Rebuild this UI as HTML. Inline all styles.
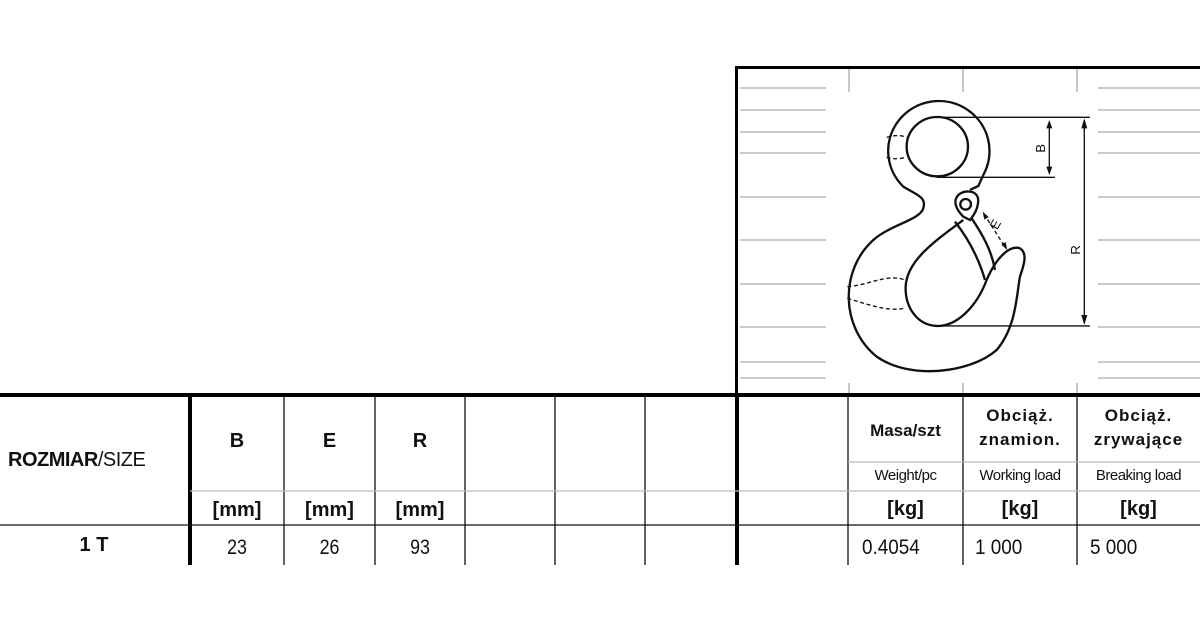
<!DOCTYPE html>
<html><head><meta charset="utf-8">
<style>
body{margin:0;width:1200px;height:630px;background:#fff;position:relative;overflow:hidden;font-family:"Liberation Sans",sans-serif;color:#111}
.a{position:absolute}
.t{position:absolute;text-align:center}
</style></head><body>
<svg class="a" style="left:0;top:0" width="1200" height="630">
<rect x="736" y="66" width="470" height="3" fill="#000"/>
<rect x="735" y="66" width="3" height="330" fill="#000"/>
<g stroke="#aaa" stroke-width="1.3">
<line x1="740" y1="88" x2="826" y2="88"/><line x1="740" y1="110" x2="826" y2="110"/><line x1="740" y1="132" x2="826" y2="132"/><line x1="740" y1="153" x2="826" y2="153"/><line x1="740" y1="197" x2="826" y2="197"/><line x1="740" y1="240" x2="826" y2="240"/><line x1="740" y1="284" x2="826" y2="284"/><line x1="740" y1="327" x2="826" y2="327"/><line x1="740" y1="362" x2="826" y2="362"/><line x1="740" y1="378" x2="826" y2="378"/>
<line x1="1098" y1="88" x2="1200" y2="88"/><line x1="1098" y1="110" x2="1200" y2="110"/><line x1="1098" y1="132" x2="1200" y2="132"/><line x1="1098" y1="153" x2="1200" y2="153"/><line x1="1098" y1="197" x2="1200" y2="197"/><line x1="1098" y1="240" x2="1200" y2="240"/><line x1="1098" y1="284" x2="1200" y2="284"/><line x1="1098" y1="327" x2="1200" y2="327"/><line x1="1098" y1="362" x2="1200" y2="362"/><line x1="1098" y1="378" x2="1200" y2="378"/>
<line x1="849" y1="69" x2="849" y2="92"/><line x1="963" y1="69" x2="963" y2="92"/><line x1="1077" y1="69" x2="1077" y2="92"/>
<line x1="849" y1="383" x2="849" y2="395"/><line x1="963" y1="383" x2="963" y2="395"/><line x1="1077" y1="383" x2="1077" y2="395"/>
</g>
<g transform="translate(730,60) scale(0.3333)" fill="none" stroke="#111" stroke-width="7">
<path d="M760 345 A152 150 0 1 0 520 380 C560 405 590 410 580 445 C570 480 480 495 430 540 C330 630 330 800 440 890 C540 960 720 940 800 870 C860 800 860 700 870 650 C880 620 895 580 870 565 C840 555 800 590 770 660 C740 740 680 800 620 798 C560 795 525 740 527 680 C530 600 620 540 700 480"/>
<ellipse cx="622" cy="260" rx="92" ry="89"/>
<path d="M700 470 C650 420 690 390 720 395 C760 400 745 450 720 480 Z"/>
<circle cx="707" cy="433" r="16"/>
<path d="M675 485 C710 530 745 590 765 660"/>
<path d="M725 475 C755 520 785 570 795 630"/>
<path d="M720 390 L745 378 L760 345"/>
<g stroke-dasharray="12 8" stroke-width="4">
<path d="M470 232 C490 225 515 225 530 232"/><path d="M470 292 C490 298 515 298 527 290"/>
<path d="M352 680 C420 675 470 640 525 660"/><path d="M352 715 C420 735 470 755 525 745"/>
<path d="M762 462 L828 565"/>
</g>
<g stroke-width="4">
<line x1="600" y1="172" x2="1080" y2="172"/><line x1="620" y1="352" x2="975" y2="352"/><line x1="620" y1="798" x2="1080" y2="798"/>
<line x1="958" y1="185" x2="958" y2="340"/><line x1="1063" y1="180" x2="1063" y2="790"/>
</g>
<g fill="#111" stroke="none">
<path d="M958 180 l-9 25 h18z"/><path d="M958 345 l-9 -25 h18z"/>
<path d="M1063 175 l-9 30 h18z"/><path d="M1063 795 l-9 -30 h18z"/>
<path d="M758 455 l5 24 l13 -8z"/><path d="M832 570 l-5 -24 l-13 8z"/>
</g>
<g fill="#111" stroke="none" font-family="Liberation Sans" font-size="40">
<text transform="translate(945,265) rotate(-90)" text-anchor="middle">B</text>
<text transform="translate(1050,570) rotate(-90)" text-anchor="middle">R</text>
<text transform="translate(808,500) rotate(-60)" text-anchor="middle">E</text>
</g>
</g>
<rect x="0" y="393" width="1200" height="4" fill="#000"/>
<rect x="188" y="395" width="4" height="170" fill="#000"/>
<rect x="735" y="395" width="4" height="170" fill="#000"/>
<g stroke="#111" stroke-width="1.3">
<line x1="284" y1="397" x2="284" y2="565"/><line x1="375" y1="397" x2="375" y2="565"/><line x1="465" y1="397" x2="465" y2="565"/><line x1="555" y1="397" x2="555" y2="565"/><line x1="645" y1="397" x2="645" y2="565"/><line x1="848" y1="397" x2="848" y2="565"/><line x1="963" y1="397" x2="963" y2="565"/><line x1="1077" y1="397" x2="1077" y2="565"/>
<line x1="0" y1="525" x2="1200" y2="525"/>
</g>
<g stroke="#bbb" stroke-width="1.3">
<line x1="190" y1="491" x2="1200" y2="491"/><line x1="848" y1="462" x2="1200" y2="462"/>
</g>
</svg>
<div class="a" style="left:8px;top:449px;font-size:20px;letter-spacing:-0.5px"><b>ROZMIAR</b>/SIZE</div>
<div class="t" style="left:190px;top:430px;width:94px;font-size:20px;font-weight:bold">B</div>
<div class="t" style="left:284px;top:430px;width:91px;font-size:20px;font-weight:bold">E</div>
<div class="t" style="left:375px;top:430px;width:90px;font-size:20px;font-weight:bold">R</div>
<div class="t" style="left:190px;top:499px;width:94px;font-size:20px;font-weight:bold">[mm]</div>
<div class="t" style="left:284px;top:499px;width:91px;font-size:20px;font-weight:bold">[mm]</div>
<div class="t" style="left:375px;top:499px;width:90px;font-size:20px;font-weight:bold">[mm]</div>
<div class="t" style="left:0;top:534px;width:188px;font-size:20px;font-weight:bold">1 T</div>
<div class="t" style="left:190px;top:536px;width:94px;font-size:21px;transform:scaleX(.85)">23</div>
<div class="t" style="left:284px;top:536px;width:91px;font-size:21px;transform:scaleX(.85)">26</div>
<div class="t" style="left:375px;top:536px;width:90px;font-size:21px;transform:scaleX(.85)">93</div>
<div class="t" style="left:848px;top:421px;width:115px;font-size:17px;font-weight:bold">Masa/szt</div>
<div class="t" style="left:963px;top:404px;width:114px;font-size:17px;font-weight:bold;line-height:24px;letter-spacing:1px">Obciąż.<br>znamion.</div>
<div class="t" style="left:1077px;top:404px;width:123px;font-size:17px;font-weight:bold;line-height:24px;letter-spacing:1px">Obciąż.<br>zrywające</div>
<div class="t" style="left:848px;top:467px;width:115px;font-size:15px;letter-spacing:-0.5px">Weight/pc</div>
<div class="t" style="left:963px;top:467px;width:114px;font-size:15px;letter-spacing:-0.5px">Working load</div>
<div class="t" style="left:1077px;top:467px;width:123px;font-size:15px;letter-spacing:-0.5px">Breaking load</div>
<div class="t" style="left:848px;top:498px;width:115px;font-size:20px;font-weight:bold">[kg]</div>
<div class="t" style="left:963px;top:498px;width:114px;font-size:20px;font-weight:bold">[kg]</div>
<div class="t" style="left:1077px;top:498px;width:123px;font-size:20px;font-weight:bold">[kg]</div>
<div class="a" style="left:862px;top:536px;font-size:21px;transform:scaleX(.9);transform-origin:left">0.4054</div>
<div class="a" style="left:975px;top:536px;font-size:21px;transform:scaleX(.9);transform-origin:left">1 000</div>
<div class="a" style="left:1090px;top:536px;font-size:21px;transform:scaleX(.9);transform-origin:left">5 000</div>
</body></html>
